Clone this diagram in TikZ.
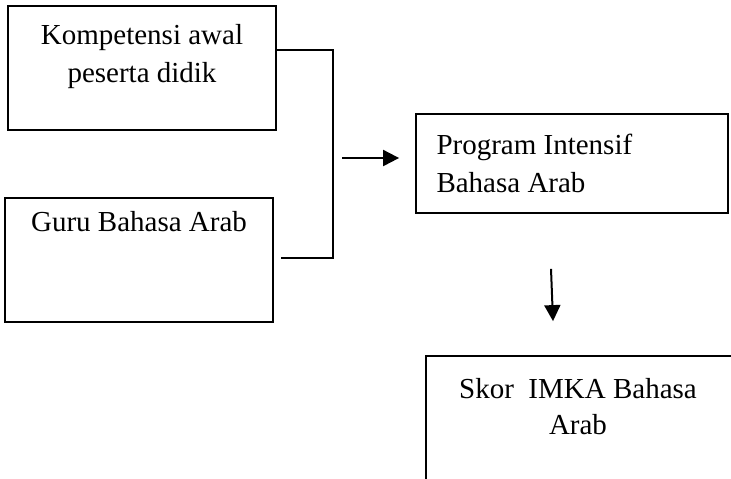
\documentclass[tikz,border=0pt]{standalone}
\usepackage{fontspec}
\setmainfont{Liberation Serif}
\usetikzlibrary{arrows.meta,positioning}
\tikzset{
  box/.style={draw,line width=0.9pt,minimum width=134pt,minimum height=62pt,inner sep=0pt},
  txt/.style={inner sep=0pt,align=center,font=\fontsize{14.5}{19}\selectfont},
}

\begin{document}
\begin{tikzpicture}[x=0.5pt,y=-0.5pt,>={Triangle[length=8pt,width=8pt]}]
  \useasboundingbox (0,0) rectangle (731,478);
  \clip (0,0) rectangle (731,478);
  \node[box] (komp) at (142,68) {};
  \node[box] (guru) at (139,260) {};
  \node[box,minimum width=156pt,minimum height=49.5pt] (prog) at (572,163.5) {};
  \node[box,minimum width=160pt,minimum height=80pt] (skor) at (586,436) {};
  \node[txt,below=9.5pt of komp.north] (kompt) {Kompetensi awal\\peserta didik};
  \node[txt,below=7pt of guru.north] (gurut) {Guru Bahasa Arab};
  \node[txt,align=left,anchor=north west] (progt)
    at ([xshift=10.5pt,yshift=-10.5pt]prog.north west) {Program Intensif\\Bahasa Arab};
  \node[txt,font=\fontsize{14.5}{18}\selectfont,below=11.5pt of skor.north,xshift=-4pt]
    (skort) {Skor~~IMKA Bahasa\\Arab};
  \coordinate (jtop) at (333,50);
  \coordinate (jmid) at (333,158);
  \coordinate (jbot) at (333,258);
  \draw[line width=0.9pt] (komp.east |- jtop) -- (jtop) -- (jbot)
    -- ([xshift=3.5pt]guru.east |- jbot);
  \draw[->,line width=1pt] ([xshift=4.5pt]jmid) -- ([xshift=-8pt]prog.west |- jmid);
  \draw[->,line width=1pt] ([xshift=-10.5pt,yshift=-27.5pt]prog.south)
    -- ([xshift=-16.5pt,yshift=17pt]skor.north);
\end{tikzpicture}
\end{document}
